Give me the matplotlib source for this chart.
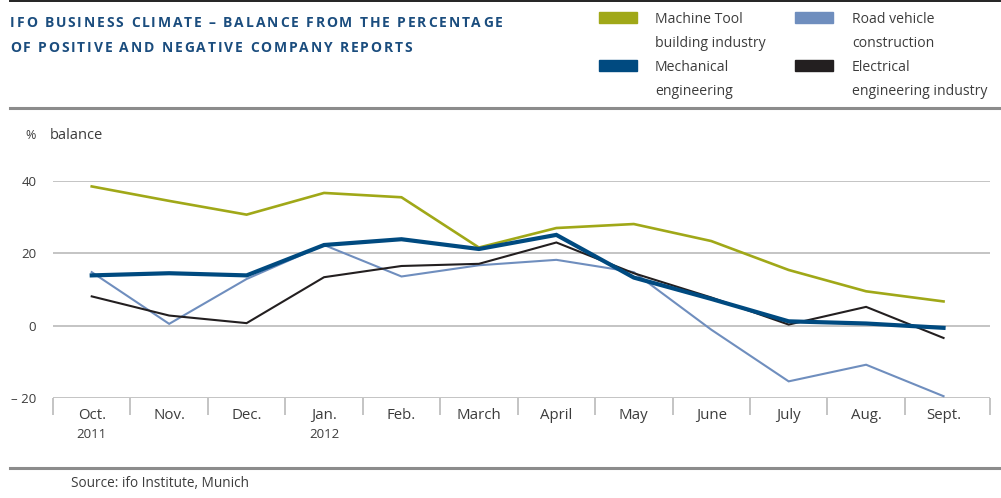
import matplotlib
matplotlib.use("Agg")
import matplotlib.pyplot as plt
import matplotlib.transforms as mtransforms
from matplotlib.lines import Line2D

# === Data ===
months = ["Oct.", "Nov.", "Dec.", "Jan.", "Feb.", "March", "April", "May",
          "June", "July", "Aug.", "Sept."]
years = {0: "2011", 3: "2012"}

machine_tool = [38.5, 34.5, 30.7, 36.7, 35.5, 21.6, 27.0, 28.1, 23.4, 15.4, 9.5, 6.7]
mechanical = [13.9, 14.5, 13.9, 22.3, 23.9, 21.2, 25.1, 13.3, 7.4, 1.2, 0.6, -0.6]
road_vehicle = [14.8, 0.5, 12.9, 22.3, 13.6, 16.7, 18.2, 14.8, -1.1, -15.4, -10.8, -19.5]
electrical = [8.1, 2.8, 0.7, 13.4, 16.5, 17.1, 23.0, 14.5, 7.8, 0.3, 5.2, -3.4]

y_ticks = [-20, 0, 20, 40]
y_tick_labels = ["\u2013 20", "0", "20", "40"]

# === Style ===
GREEN = "#a0a818"
DARK_BLUE = "#004a80"
LIGHT_BLUE = "#6f8ebe"
BLACK = "#231f20"
TITLE_BLUE = "#1b4d7e"
TEXT = "#3c3c3c"
GRID = "#b4b4b4"
FONT = "Open Sans"

W, H = 1001, 498
fig = plt.figure(figsize=(W / 100, H / 100), dpi=100)
px = mtransforms.IdentityTransform()


def top(y):
    # pixel y measured from the top of the image -> display coordinates
    return H - y


def spaced_text(x, y, s, spacing, **kw):
    renderer = fig.canvas.get_renderer()
    space_w = None
    for ch in s:
        if ch == " ":
            if space_w is None:
                t = fig.text(0, 0, "a a", transform=px, **kw)
                t2 = fig.text(0, 0, "aa", transform=px, **kw)
                space_w = (t.get_window_extent(renderer).width
                           - t2.get_window_extent(renderer).width)
                t.remove()
                t2.remove()
            x += space_w + spacing
            continue
        t = fig.text(x, y, ch, transform=px, **kw)
        x += t.get_window_extent(renderer).width + spacing


# frame lines of the figure
fig.add_artist(Line2D([10, 1000], [top(1), top(1)], transform=px, color="#222222", lw=1.4))
fig.add_artist(Line2D([10, 1000], [top(108), top(108)], transform=px, color="#8c8c8c", lw=2.2))
fig.add_artist(Line2D([10, 1000], [top(468), top(468)], transform=px, color="#8c8c8c", lw=2.2))

# title with wide letter spacing
spaced_text(10, top(26.5), "IFO BUSINESS CLIMATE \u2013 BALANCE FROM THE PERCENTAGE", 1.85,
            fontsize=10, fontweight="bold", color=TITLE_BLUE, family=FONT)
spaced_text(10, top(51.5), "OF POSITIVE AND NEGATIVE COMPANY REPORTS", 1.85,
            fontsize=10, fontweight="bold", color=TITLE_BLUE, family=FONT)

# legend
legend_items = [
    (GREEN, "Machine Tool", "building industry", 599, 655, 12),
    (LIGHT_BLUE, "Road vehicle", "construction", 795, 852, 12),
    (DARK_BLUE, "Mechanical", "engineering", 599, 655, 60),
    (BLACK, "Electrical", "engineering industry", 795, 852, 60),
]
for color, l1, l2, sx, tx, sy in legend_items:
    fig.patches.append(plt.Rectangle((sx, top(sy + 11)), 38, 11, transform=px,
                                     color=color, figure=fig))
    fig.text(tx, top(sy + 11), l1, transform=px, fontsize=10.1, color=TEXT, family=FONT)
    fig.text(tx, top(sy + 35), l2, transform=px, fontsize=10.1, color=TEXT, family=FONT)

# === Axes ===
ax = fig.add_axes([53 / W, (H - 398) / H, 937 / W, 217 / H])
x = list(range(len(months)))

ax.plot(x, machine_tool, color=GREEN, lw=1.9, clip_on=False, solid_joinstyle="miter")
ax.plot(x, road_vehicle, color=LIGHT_BLUE, lw=1.5, clip_on=False, solid_joinstyle="miter")
ax.plot(x, electrical, color=BLACK, lw=1.5, clip_on=False, solid_joinstyle="miter")
ax.plot(x, mechanical, color=DARK_BLUE, lw=3.0, clip_on=False, solid_joinstyle="miter")

ax.set_xlim(-0.5, 11.6)
ax.set_ylim(-20, 40)
for v in y_ticks:
    ax.axhline(v, color=GRID, lw=1.1, zorder=0)

for s in ax.spines.values():
    s.set_visible(False)
ax.set_facecolor("none")

ax.set_yticks(y_ticks)
ax.set_yticklabels(y_tick_labels, fontsize=9.5, color=TEXT, family=FONT)
ax.tick_params(axis="y", length=0, pad=12)

# x ticks at category boundaries, labels centred
bounds = [i - 0.5 for i in range(len(months))] + [11.6]
ax.set_xticks(bounds)
ax.set_xticklabels([])
ax.tick_params(axis="x", length=12, width=1.1, color=GRID, direction="out", pad=2)
ax.set_xticks(x, minor=True)
ax.set_xticklabels(months, minor=True, fontsize=10.8, color=TEXT, family=FONT)
ax.tick_params(axis="x", which="minor", length=0, pad=7)
for i, yr in years.items():
    ax.text(i, -0.14, yr, transform=ax.get_xaxis_transform(), ha="center", va="top",
            fontsize=9.5, color=TEXT, family=FONT)

fig.text(25, top(139), "%", transform=px, fontsize=9, color=TEXT, family=FONT)
fig.text(50, top(139), "balance", transform=px, fontsize=10.5, color=TEXT, family=FONT)
fig.text(71, top(487), "Source: ifo Institute, Munich", transform=px, fontsize=9.8,
         color=TEXT, family=FONT)

fig.savefig("out.png", dpi=100)
